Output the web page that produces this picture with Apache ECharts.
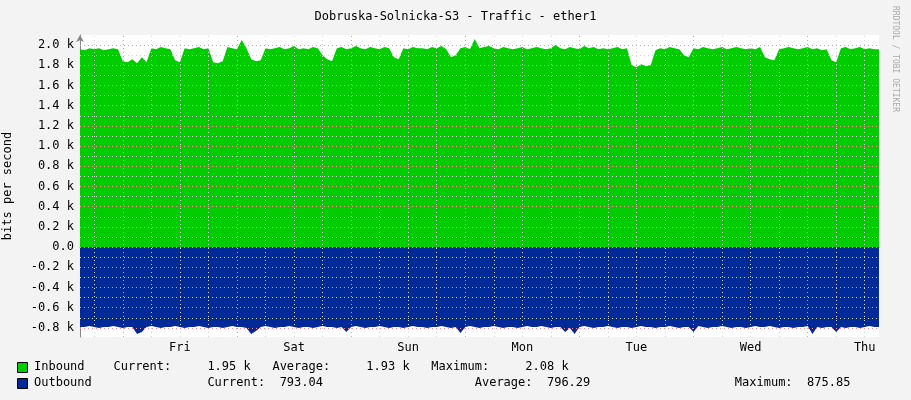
<!DOCTYPE html>
<html>
<head>
<meta charset="UTF-8">
<title>Traffic - ether1</title>
<script src="https://cdn.jsdelivr.net/npm/echarts@6/dist/echarts.min.js"></script>
</head>
<body style="margin:0;background:#f3f3f3">
<div id="main" style="width:911px;height:400px;"></div>
<script>
// hourly samples, hour 0 = Wed 15:00, in k bits/s
var inbound = [
  1.96,1.95,1.97,1.96,1.97,1.95,1.96,1.97,1.96,1.84,1.83,1.86,1.82,1.88,1.83,1.97,1.96,1.98,1.97,1.96,1.85,1.83,1.97,1.96,
  1.97,1.98,1.96,1.97,1.83,1.82,1.84,1.98,1.97,1.96,2.05,1.97,1.86,1.84,1.85,1.97,1.96,1.97,1.98,1.96,1.97,1.99,1.96,1.97,
  1.96,1.98,1.97,1.90,1.86,1.84,1.97,1.98,1.96,1.97,1.99,1.97,1.96,1.98,1.97,1.96,1.98,1.97,1.88,1.86,1.97,1.96,1.98,1.97,
  1.97,1.96,1.98,1.97,1.99,1.96,1.88,1.90,1.97,1.98,1.96,2.06,1.97,1.98,1.99,1.97,1.96,1.98,1.97,1.96,1.97,1.98,1.96,1.97,
  1.98,1.97,1.96,1.97,2.00,1.97,1.96,1.98,1.97,1.96,1.99,1.97,1.98,1.96,1.97,1.96,1.97,1.98,1.96,1.97,1.80,1.78,1.81,1.79,
  1.80,1.95,1.97,1.96,1.98,1.97,1.96,1.90,1.88,1.97,1.96,1.98,1.97,1.96,1.97,1.98,1.96,1.97,1.98,1.97,1.96,1.97,1.96,1.98,
  1.88,1.86,1.85,1.96,1.97,1.98,1.97,1.96,1.97,1.98,1.96,1.97,1.95,1.96,1.85,1.83,1.97,1.98,1.96,1.97,1.98,1.96,1.97,1.96,1.96
];
var outbound = [
  0.79,0.79,0.78,0.79,0.80,0.79,0.79,0.78,0.79,0.80,0.79,0.79,0.86,0.84,0.79,0.78,0.79,0.80,0.79,0.79,0.78,0.79,0.80,0.79,
  0.79,0.78,0.79,0.80,0.79,0.79,0.80,0.79,0.78,0.79,0.79,0.80,0.86,0.83,0.79,0.78,0.79,0.80,0.79,0.79,0.78,0.79,0.80,0.79,
  0.79,0.80,0.79,0.78,0.79,0.79,0.80,0.79,0.84,0.79,0.78,0.79,0.80,0.79,0.79,0.78,0.79,0.80,0.79,0.79,0.80,0.79,0.78,0.79,
  0.79,0.80,0.79,0.79,0.78,0.79,0.80,0.79,0.85,0.79,0.78,0.79,0.80,0.79,0.79,0.78,0.79,0.80,0.79,0.79,0.80,0.79,0.78,0.79,
  0.79,0.78,0.79,0.80,0.79,0.79,0.84,0.80,0.86,0.79,0.78,0.79,0.80,0.79,0.79,0.78,0.79,0.80,0.79,0.79,0.80,0.79,0.78,0.79,
  0.79,0.80,0.79,0.79,0.78,0.79,0.80,0.79,0.79,0.84,0.78,0.79,0.80,0.79,0.79,0.78,0.79,0.80,0.79,0.79,0.80,0.79,0.78,0.79,
  0.79,0.78,0.79,0.80,0.79,0.79,0.80,0.79,0.79,0.78,0.86,0.79,0.80,0.79,0.79,0.84,0.79,0.80,0.79,0.79,0.80,0.79,0.78,0.79,0.79
];
var dayNames = ['Fri', 'Sat', 'Sun', 'Mon', 'Tue', 'Wed', 'Thu'];
var dayLabelHours = [21, 45, 69, 93, 117, 141, 165];
var midnightHours = [9, 33, 57, 81, 105, 129, 153];
var minorHours = [3, 15, 21, 27, 39, 45, 51, 63, 69, 75, 87, 93, 99, 111, 117, 123, 135, 141, 147, 159, 165];
var majorY = [-0.8, -0.6, -0.4, -0.2, 0, 0.2, 0.4, 0.6, 0.8, 1.0, 1.2, 1.4, 1.6, 1.8, 2.0];
var minorY = [-0.7, -0.5, -0.3, -0.1, 0.1, 0.3, 0.5, 0.7, 0.9, 1.1, 1.3, 1.5, 1.7, 1.9];
var stats = {
  inbound: 'Inbound    Current:     1.95 k   Average:     1.93 k   Maximum:     2.08 k',
  outbound: 'Outbound                Current:  793.04                     Average:  796.29                    Maximum:  875.85'
};

var mono = 'DejaVu Sans Mono';
var grid = [];
minorHours.forEach(function (h) { grid.push({ xAxis: h, lineStyle: { color: '#d4d4d4', type: [1, 3] } }); });
minorY.forEach(function (v) { grid.push({ yAxis: v, lineStyle: { color: '#d4d4d4', type: [1, 3] } }); });
midnightHours.forEach(function (h) { grid.push({ xAxis: h, lineStyle: { color: '#ff9090', type: [1, 3] } }); });
majorY.forEach(function (v) { grid.push({ yAxis: v, lineStyle: { color: '#ff9090', type: [1, 3] } }); });

var option = {
  backgroundColor: '#f3f3f3',
  animation: false,
  title: {
    text: 'Dobruska-Solnicka-S3 - Traffic - ether1', left: 'center', top: 6,
    textStyle: { fontFamily: mono, fontSize: 12, fontWeight: 'normal', color: '#000' }
  },
  grid: {
    left: 80, right: 32, top: 35, bottom: 63, containLabel: false, outerBoundsMode: 'none',
    show: true, backgroundColor: '#fff', borderWidth: 0
  },
  xAxis: {
    type: 'value', min: 0, max: 168,
    axisLine: { lineStyle: { color: '#888' }, symbol: ['none', 'arrow'], symbolSize: [6, 7] },
    axisTick: { show: false },
    splitLine: { show: false },
    axisLabel: {
      customValues: dayLabelHours, color: '#000', fontFamily: mono, fontSize: 12, margin: 5,
      formatter: function (v) { return dayNames[dayLabelHours.indexOf(v)]; }
    }
  },
  yAxis: {
    type: 'value', min: -0.89, max: 2.1,
    name: 'bits per second', nameLocation: 'middle', nameGap: 66, nameRotate: 90,
    nameTextStyle: { fontFamily: mono, fontSize: 12, color: '#000' },
    axisLine: { show: true, lineStyle: { color: '#888' }, symbol: ['none', 'arrow'], symbolSize: [6, 7] },
    axisTick: { show: false },
    splitLine: { show: false },
    axisLabel: {
      customValues: majorY, color: '#000', fontFamily: mono, fontSize: 12, margin: 6,
      formatter: function (v) { return Math.abs(v) < 1e-9 ? '0.0' : v.toFixed(1) + ' k'; }
    }
  },
  series: [
    {
      type: 'line', symbol: 'none', data: inbound.map(function (v, i) { return [i, v]; }),
      lineStyle: { width: 0 }, areaStyle: { color: '#00cc00', opacity: 1 }
    },
    {
      type: 'line', symbol: 'none', data: outbound.map(function (v, i) { return [i, -v]; }),
      lineStyle: { width: 0 }, areaStyle: { color: '#002a97', opacity: 1 }
    },
    {
      type: 'line', symbol: 'none', z: 10, data: [[0, 0]], lineStyle: { opacity: 0 },
      markLine: { silent: true, symbol: ['none', 'none'], label: { show: false }, animation: false, data: grid }
    }
  ],
  graphic: [
    { type: 'rect', left: 17, top: 362, shape: { width: 10, height: 10 }, style: { fill: '#00cc00', stroke: '#000', lineWidth: 1 } },
    { type: 'rect', left: 17, top: 378, shape: { width: 10, height: 10 }, style: { fill: '#002a97', stroke: '#000', lineWidth: 1 } },
    { type: 'text', left: 34, top: 361, style: { text: stats.inbound, font: '12px ' + mono, fill: '#000' } },
    { type: 'text', left: 34, top: 377, style: { text: stats.outbound, font: '12px ' + mono, fill: '#000' } },
    { type: 'text', x: 899, y: 6, rotation: -Math.PI / 2, style: { text: 'RRDTOOL / TOBI OETIKER', font: '8px ' + mono, fill: '#aaa' } }
  ]
};
var myChart = echarts.init(document.getElementById('main'));
myChart.setOption(option);
</script>
</body>
</html>
